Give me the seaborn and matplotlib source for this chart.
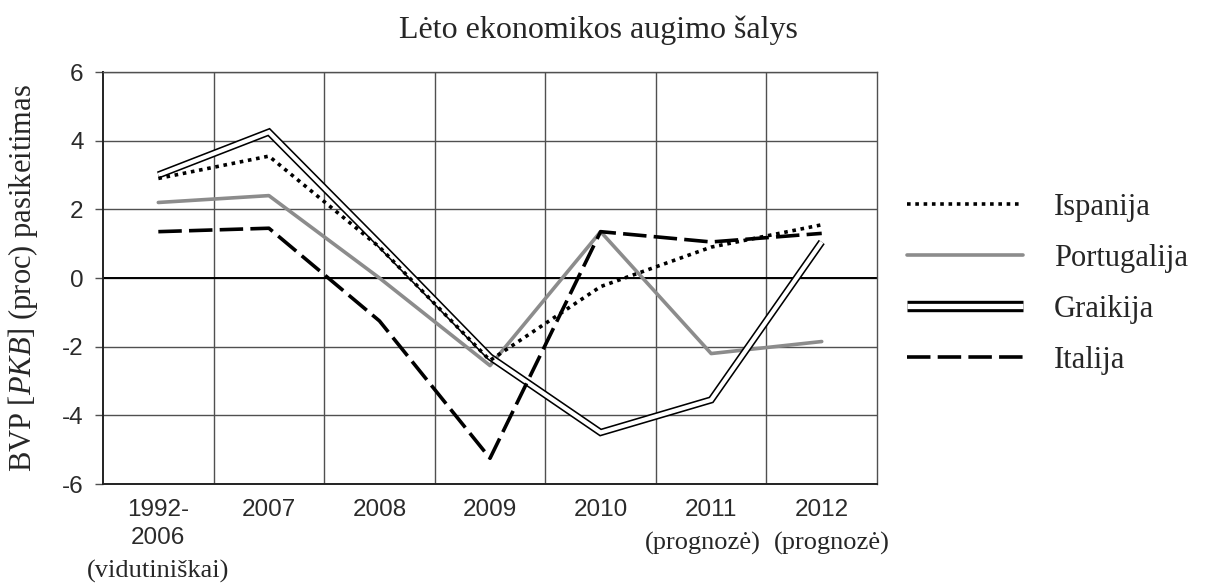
import matplotlib
matplotlib.use('Agg')
from matplotlib import pyplot as plt
import matplotlib.patheffects as pe
from matplotlib.lines import Line2D
from matplotlib.ticker import FixedLocator
import seaborn as sns
import pandas as pd

# duomenys nuskaityti nuo paveikslo
metai = ['1992-\n2006', '2007', '2008', '2009', '2010', '2011', '2012']
ispanija = [2.9, 3.55, 0.9, -2.4, -0.25, 0.9, 1.55]
portugalija = [2.2, 2.4, 0.0, -2.55, 1.35, -2.2, -1.85]
graikija = [3.0, 4.25, 1.0, -2.3, -4.5, -3.55, 1.05]
italija = [1.35, 1.45, -1.25, -5.25, 1.35, 1.05, 1.3]

df = pd.DataFrame({'x': range(len(metai)), 'Ispanija': ispanija, 'Portugalija': portugalija,
                   'Graikija': graikija, 'Italija': italija})

sns.set_theme(style='white')
plt.rcParams['font.family'] = ['Liberation Sans', 'DejaVu Sans']
plt.rcParams['axes.unicode_minus'] = False
plt.rcParams['mathtext.fontset'] = 'custom'
plt.rcParams['mathtext.rm'] = 'Liberation Serif'
plt.rcParams['mathtext.it'] = 'Liberation Serif:italic'

serif = ['Liberation Serif', 'DejaVu Serif']
grid_c = '#505050'

fig = plt.figure(figsize=(12.08, 5.84), dpi=100)
ax = fig.add_axes([0.0853, 0.1712, 0.6407, 0.7055])

sns.lineplot(data=df, x='x', y='Portugalija', ax=ax, color='#8c8c8c', lw=2.6,
             label='Portugalija', zorder=3)
sns.lineplot(data=df, x='x', y='Graikija', ax=ax, color='white', lw=3.0,
             solid_capstyle='butt', solid_joinstyle='miter',
             path_effects=[pe.Stroke(linewidth=5.3, foreground='black',
                                     capstyle='butt', joinstyle='miter'), pe.Normal()],
             label='Graikija', zorder=4)
sns.lineplot(data=df, x='x', y='Ispanija', ax=ax, color='black', lw=2.6,
             linestyle=(0, (1, 1.3)), label='Ispanija', zorder=5)
sns.lineplot(data=df, x='x', y='Italija', ax=ax, color='black', lw=2.6,
             linestyle=(0, (6.5, 2)), label='Italija', zorder=6)

ax.set_xlim(-0.5, len(metai) - 0.5)
ax.set_ylim(-6, 6)
ax.set_xticks(range(len(metai)))
ax.set_xticklabels(metai, fontsize=17.5, color='#2a2a2a', linespacing=1.35)
ax.xaxis.set_minor_locator(FixedLocator([i + 0.5 for i in range(len(metai) - 1)]))
ax.set_yticks(range(-6, 7, 2))
ax.tick_params(axis='y', labelsize=17.5, labelcolor='#2a2a2a', length=6, width=1,
               color=grid_c, pad=8, left=True)
ax.tick_params(axis='x', which='both', length=0, pad=10.5)
ax.grid(axis='y', which='major', color=grid_c, lw=1.0)
ax.grid(axis='x', which='minor', color=grid_c, lw=1.0)
ax.grid(axis='x', which='major', visible=False)
ax.axhline(0, color='black', lw=1.4, zorder=2)
for s in ax.spines.values():
    s.set_color(grid_c)
    s.set_linewidth(1.0)
ax.spines['left'].set_color('#222222')
ax.spines['left'].set_linewidth(1.4)
ax.spines['bottom'].set_color('#222222')
ax.spines['bottom'].set_linewidth(1.4)

ax.set_xlabel('')
ax.set_ylabel(r'BVP $\mathit{[PKB]}$ (proc) pasikeitimas', fontsize=22, fontfamily=serif)
ax.yaxis.set_label_coords(-0.082, 0.5)

xt = ax.get_xaxis_transform()
ax.text(0, -0.212, '(vidutiniškai)', transform=xt, ha='center', va='center',
        fontsize=19, fontfamily=serif)
ax.text(4.92, -0.145, '(prognozė)', transform=xt, ha='center', va='center',
        fontsize=19, fontfamily=serif)
ax.text(6.09, -0.145, '(prognozė)', transform=xt, ha='center', va='center',
        fontsize=19, fontfamily=serif)

fig.text(0.495, 1 - 38 / 584, 'Lėto ekonomikos augimo šalys', ha='center', va='baseline',
         fontsize=23, fontfamily=serif)

h, l = ax.get_legend_handles_labels()
order = ['Ispanija', 'Portugalija', 'Graikija', 'Italija']
hs = [h[l.index(n)] for n in order]
# legendoje dviguba linija platesne
hs[2] = Line2D([], [], color='white', lw=3.8, solid_capstyle='butt',
               path_effects=[pe.Stroke(linewidth=8.2, foreground='black', capstyle='butt'),
                             pe.Normal()])
ax.get_legend().remove()
fig.legend(hs, order, loc='center left', bbox_to_anchor=(907 / 1208, 1 - 284 / 584),
           frameon=False, borderpad=0, borderaxespad=0, handlelength=3.8,
           handletextpad=1.0, labelspacing=0.72, prop={'family': serif, 'size': 22})

fig.savefig('out.png', dpi=100)
